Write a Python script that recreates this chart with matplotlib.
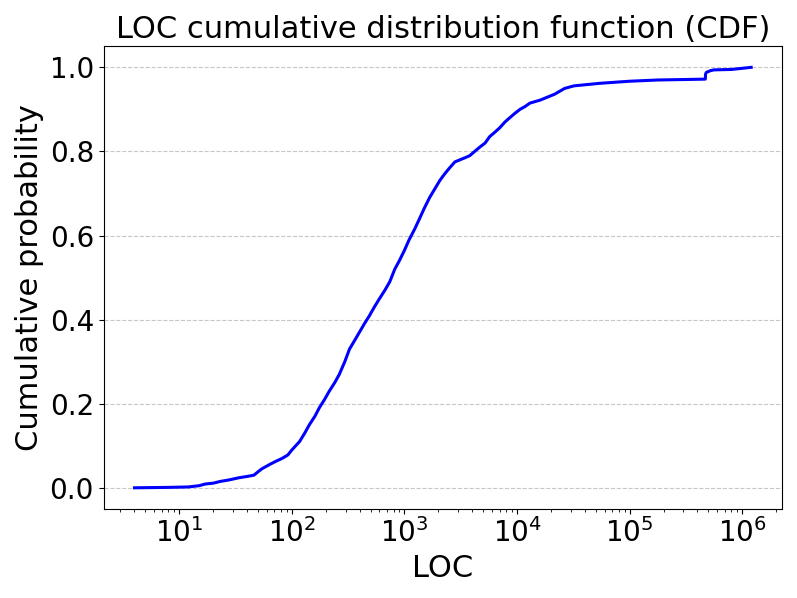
import matplotlib
matplotlib.use('Agg')
import matplotlib.pyplot as plt
import numpy as np

# LOC values and cumulative probability
loc = [4, 8, 12, 15, 17, 20, 23, 28, 34, 40, 46, 50, 54, 63, 72, 82, 92,
       100, 117, 130, 143, 160, 175, 195, 215, 240, 264, 295, 325, 360,
       398, 440, 490, 540, 600, 670, 740, 820, 900, 1000, 1100, 1230,
       1360, 1500, 1670, 1850, 2050, 2250, 2500, 2800, 3100, 3450, 3800,
       4200, 4650, 5200, 5700, 6300, 7000, 7800, 8600, 9500, 10600,
       11800, 13000, 16000, 21500, 26500, 32000, 54000, 100000, 180000,
       300000, 470000, 472000, 480000, 520000, 560000, 800000, 1200000]
cdf = [0.0, 0.001, 0.002, 0.005, 0.009, 0.011, 0.015, 0.019, 0.024, 0.027,
       0.030, 0.038, 0.045, 0.055, 0.063, 0.070, 0.078,
       0.090, 0.11, 0.13, 0.15, 0.17, 0.19, 0.21, 0.23, 0.25, 0.27, 0.30,
       0.33, 0.35, 0.37, 0.39, 0.41, 0.43, 0.45, 0.47, 0.49, 0.52, 0.54,
       0.565, 0.59, 0.615, 0.64, 0.665, 0.69, 0.71, 0.73, 0.745, 0.76,
       0.775, 0.78, 0.785, 0.79, 0.80, 0.81, 0.82, 0.835, 0.845, 0.856,
       0.87, 0.88, 0.89, 0.90, 0.907, 0.915, 0.922, 0.936, 0.95, 0.956,
       0.962, 0.967, 0.970, 0.971, 0.972, 0.984, 0.988, 0.992, 0.994,
       0.995, 1.0]

fig, ax = plt.subplots(figsize=(7.97, 5.98), dpi=100)
ax.plot(loc, cdf, color='blue', linewidth=2.2)
ax.set_xscale('log')
ax.set_title('LOC cumulative distribution function (CDF)', fontsize=22)
ax.set_xlabel('LOC', fontsize=22)
ax.set_ylabel('Cumulative probability', fontsize=22)
ax.tick_params(axis='both', labelsize=20)
ax.set_yticks([0.0, 0.2, 0.4, 0.6, 0.8, 1.0])
ax.grid(axis='y', linestyle='--', alpha=0.7)
fig.tight_layout()
fig.savefig('out.png')
